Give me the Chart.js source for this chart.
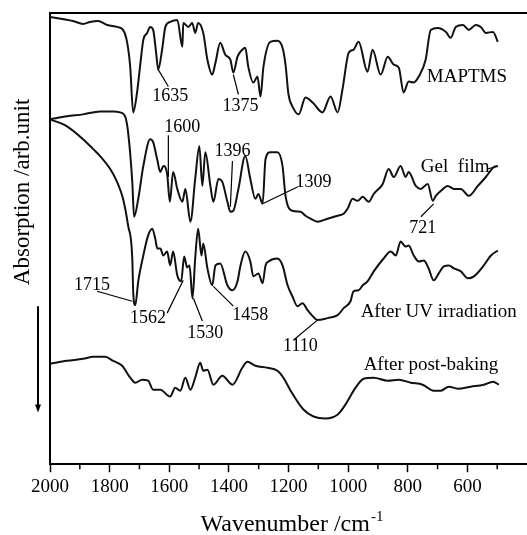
<!DOCTYPE html>
<html>
<head>
<meta charset="utf-8">
<script src="https://cdn.jsdelivr.net/npm/chart.js@4.4.0/dist/chart.umd.min.js"></script>
<style>
  html, body { margin: 0; padding: 0; background: #fff; }
  #wrap { width: 527px; height: 535px; }
</style>
</head>
<body>
<div id="wrap"><canvas id="irChart" width="527" height="535"></canvas></div>
<script>
// Wavenumber (cm-1) / absorption (arb. unit) pairs
const maptmsWave = [2000,1923,1889,1866,1839,1808,1775,1755,1741,1731,1721,1708,1698,1687,1674,1664,1654,1644,1637,1624,1613,1597,1573,1556,1553,1536,1523,1513,1503,1486,1472,1456,1445,1429,1412,1395,1385,1371,1355,1345,1335,1318,1304,1294,1284,1261,1237,1220,1210,1200,1187,1166,1143,1119,1086,1059,1035,1019,998,982,965,935,918,891,867,847,830,814,797,780,763,740,723,699,672,656,639,615,595,572,555,538,514,498];
const maptmsAbs = [450,446,443,445,446,442,440,437,424,400,354,374,400,427,434,440,437,414,397,417,440,445,447,420,444,440,444,434,444,434,407,392,404,424,412,407,394,410,417,419,400,384,390,370,400,425,426,419,402,372,360,352,369,364,354,370,354,377,414,417,425,395,417,392,410,402,399,374,385,384,390,407,437,439,435,429,440,442,437,442,440,434,435,425];

const gelWave = [2000,1943,1889,1832,1788,1765,1748,1738,1724,1718,1704,1687,1664,1654,1640,1630,1620,1607,1598,1587,1573,1556,1546,1529,1513,1499,1489,1479,1462,1452,1435,1422,1405,1395,1385,1368,1345,1328,1311,1301,1287,1277,1261,1237,1220,1210,1187,1160,1143,1126,1103,1069,1035,1015,1002,985,968,951,931,914,884,864,847,824,807,797,773,756,733,716,706,689,666,645,622,595,565,538,511,498];
const gelAbs = [347,350,352,355,355,354,350,334,284,249,267,300,327,324,306,294,300,292,264,294,277,264,277,244,287,320,280,314,280,264,287,284,264,254,255,277,310,287,267,272,262,307,314,314,300,270,255,254,250,247,244,247,250,252,257,267,265,269,264,272,282,297,289,300,289,294,280,277,282,265,270,275,280,277,277,270,280,289,299,300];

const uvWave = [2000,1943,1889,1855,1832,1798,1775,1755,1738,1724,1721,1714,1704,1687,1671,1657,1647,1640,1630,1620,1607,1597,1587,1573,1560,1550,1540,1532,1522,1513,1503,1492,1486,1472,1456,1445,1429,1405,1388,1371,1361,1345,1328,1318,1301,1287,1277,1267,1237,1220,1203,1187,1170,1153,1136,1119,1103,1069,1035,1015,992,982,965,951,935,914,881,857,840,824,807,797,780,763,746,730,713,696,679,662,645,622,598,578,545,521,498];
const uvAbs = [347,340,327,317,310,297,284,267,240,207,174,160,184,210,230,237,227,217,217,210,214,200,214,190,184,209,198,200,167,207,237,210,222,197,180,200,202,180,175,184,200,214,204,189,192,182,200,204,207,200,180,169,159,162,155,149,145,147,150,157,164,174,175,180,184,194,207,214,210,224,219,220,210,204,205,197,185,192,199,200,197,194,187,189,200,210,215];

const bakedWave = [2000,1943,1889,1855,1815,1788,1758,1731,1714,1691,1671,1654,1630,1597,1580,1563,1546,1529,1513,1496,1486,1472,1452,1422,1388,1355,1338,1311,1271,1237,1217,1193,1150,1116,1076,1035,1009,975,948,914,867,830,790,750,713,689,662,632,588,545,514,494];
const bakedAbs = [101,104,106,108,108,104,99,87,82,85,84,75,75,68,77,74,87,75,87,102,94,95,80,89,80,97,103,99,97,94,87,74,55,48,46,50,60,77,86,87,84,85,82,80,74,74,78,76,78,80,83,80];

const seriesNames = ['MAPTMS', 'Gel  film', 'After UV irradiation', 'After post-baking'];
const majorTicks = [2000, 1800, 1600, 1400, 1200, 1000, 800, 600];
const minorTicks = [1900, 1700, 1500, 1300, 1100, 900, 700, 500];
const peakNames = ['1635', '1375', '1600', '1396', '1309', '721', '1715', '1562', '1530', '1458', '1110'];

// where the peak labels sit and where their leader lines point (wavenumber, abs)
const peakLayout = [
  { at: [1597, 370], from: [1603, 380], to: [1637, 397] },
  { at: [1361, 360], from: [1368, 372], to: [1385, 392] },
  { at: [1556, 339], from: [1603, 331], to: [1603, 289] },
  { at: [1388, 315], from: [1388, 305], to: [1395, 259] },
  { at: [1116, 284], from: [1170, 279], to: [1287, 262] },
  { at: [750, 237], from: [756, 249], to: [713, 262] },
  { at: [1859, 180], from: [1842, 174], to: [1724, 164] },
  { at: [1671, 147], from: [1607, 152], to: [1553, 185] },
  { at: [1479, 132], from: [1489, 144], to: [1519, 167] },
  { at: [1328, 150], from: [1385, 159], to: [1452, 179] },
  { at: [1160, 119], from: [1183, 125], to: [1103, 145] }
];
const nameLayout = [[736, 390], [756, 299], [958, 153], [948, 100]];

const serif = '"Liberation Serif", "DejaVu Serif", serif';

function toPoints(wave, abs) {
  return wave.map((w, i) => ({ x: w, y: abs[i] }));
}

const spectra = [
  toPoints(maptmsWave, maptmsAbs),
  toPoints(gelWave, gelAbs),
  toPoints(uvWave, uvAbs),
  toPoints(bakedWave, bakedAbs)
];

// frame top, minor ticks, peak labels, titles and the arrow
const decorations = {
  id: 'decorations',
  afterDraw(chart) {
    const { ctx, chartArea, scales } = chart;
    const xs = scales.x, ys = scales.y;
    const px = w => xs.getPixelForValue(w);
    const py = v => ys.getPixelForValue(v);
    ctx.save();
    ctx.strokeStyle = '#000';
    ctx.fillStyle = '#000';

    ctx.lineWidth = 2;
    ctx.beginPath();
    ctx.moveTo(chartArea.left - 1, chartArea.top);
    ctx.lineTo(chartArea.right, chartArea.top);
    ctx.stroke();

    ctx.lineWidth = 1.5;
    ctx.beginPath();
    minorTicks.forEach(w => {
      ctx.moveTo(px(w), chartArea.bottom);
      ctx.lineTo(px(w), chartArea.bottom + 5);
    });
    ctx.stroke();

    ctx.font = '18px ' + serif;
    ctx.textAlign = 'center';
    ctx.textBaseline = 'middle';
    ctx.lineWidth = 1.2;
    peakNames.forEach((name, i) => {
      const p = peakLayout[i];
      ctx.fillText(name, px(p.at[0]), py(p.at[1]));
      ctx.beginPath();
      ctx.moveTo(px(p.from[0]), py(p.from[1]));
      ctx.lineTo(px(p.to[0]), py(p.to[1]));
      ctx.stroke();
    });

    ctx.font = '19px ' + serif;
    ctx.textAlign = 'left';
    seriesNames.forEach((name, i) => {
      ctx.fillText(name, px(nameLayout[i][0]), py(nameLayout[i][1]));
    });
    // short link from "film" to the end of the gel curve
    const gx = px(nameLayout[1][0]) + ctx.measureText(seriesNames[1]).width;
    ctx.beginPath();
    ctx.moveTo(gx - 2, py(297));
    ctx.lineTo(px(gelWave[gelWave.length - 1]), py(gelAbs[gelAbs.length - 1]));
    ctx.stroke();

    // y title
    ctx.save();
    ctx.translate(chartArea.left - 27, py(274));
    ctx.rotate(-Math.PI / 2);
    ctx.font = '23px ' + serif;
    ctx.textAlign = 'center';
    ctx.fillText('Absorption /arb.unit', 0, 0);
    ctx.restore();

    // arrow beside the y axis
    const ax = chartArea.left - 12;
    const a1 = py(159), a2 = py(52);
    ctx.lineWidth = 2;
    ctx.beginPath();
    ctx.moveTo(ax, a1);
    ctx.lineTo(ax, a2 - 6);
    ctx.stroke();
    ctx.beginPath();
    ctx.moveTo(ax - 3, a2 - 8);
    ctx.lineTo(ax + 3, a2 - 8);
    ctx.lineTo(ax, a2);
    ctx.closePath();
    ctx.fill();

    // x title with superscript
    const main = 'Wavenumber /cm';
    const sup = '-1';
    ctx.font = '24px ' + serif;
    const mw = ctx.measureText(main).width;
    ctx.font = '15px ' + serif;
    const sw = ctx.measureText(sup).width;
    const cx = (chartArea.left + chartArea.right) / 2 + 3;
    const startX = cx - (mw + sw) / 2;
    ctx.textBaseline = 'alphabetic';
    ctx.font = '24px ' + serif;
    ctx.fillText(main, startX, 531);
    ctx.font = '15px ' + serif;
    ctx.fillText(sup, startX + mw + 1, 521);

    ctx.restore();
  }
};

new Chart(document.getElementById('irChart'), {
  type: 'line',
  data: {
    datasets: spectra.map((pts, i) => ({
      label: seriesNames[i],
      data: pts,
      borderColor: '#111',
      borderWidth: 2,
      pointRadius: 0,
      fill: false,
      cubicInterpolationMode: 'monotone'
    }))
  },
  options: {
    responsive: false,
    animation: false,
    events: [],
    layout: { padding: { left: 50, right: 0, top: 13, bottom: 34 } },
    plugins: {
      legend: { display: false },
      tooltip: { enabled: false }
    },
    scales: {
      x: {
        type: 'linear',
        reverse: true,
        min: 400,
        max: 2000,
        afterBuildTicks: axis => {
          axis.ticks = majorTicks.map(v => ({ value: v }));
        },
        ticks: {
          color: '#000',
          padding: 3,
          maxRotation: 0,
          autoSkip: false,
          font: { family: serif, size: 19 },
          callback: v => String(v)
        },
        grid: {
          drawOnChartArea: false,
          drawTicks: true,
          tickLength: 8,
          tickColor: '#000',
          tickWidth: 1.5
        },
        border: { display: true, color: '#000', width: 2 }
      },
      y: {
        min: 0,
        max: 454,
        ticks: { display: false },
        grid: { drawOnChartArea: false, drawTicks: false },
        border: { display: true, color: '#000', width: 2 }
      }
    }
  },
  plugins: [decorations]
});
</script>
</body>
</html>
